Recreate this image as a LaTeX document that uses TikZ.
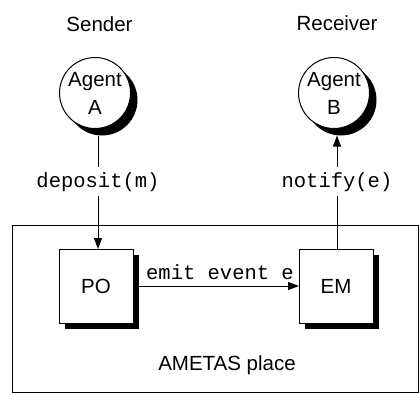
\documentclass[tikz,border=0pt]{standalone}
\usepackage{fontspec}
\setmainfont{Liberation Sans}
\setmonofont{Liberation Mono}
\usetikzlibrary{arrows.meta}
\begin{document}
\begin{tikzpicture}[x=1pt,y=-1pt,
  every node/.style={inner sep=0pt, outer sep=0pt},
  sans/.style={font=\fontsize{20.5}{28}\selectfont},
  mono/.style={font=\ttfamily\fontsize{20.5}{24}\selectfont},
  agent/.style={circle, draw, line width=1pt, fill=white, minimum size=71pt, align=center, sans},
  agentshadow/.style={circle, fill=black, minimum size=71pt},
  box/.style={rectangle, draw, line width=1pt, fill=white, minimum size=74pt, sans},
  boxshadow/.style={rectangle, fill=black, minimum size=74pt},
  msg/.style={mono, anchor=base, inner ysep=5pt},
  link/.style={line width=1pt},
  arr/.style={link, -{Triangle[length=11pt,width=8pt]}}
]
\useasboundingbox (0,0) rectangle (419,394);

% the place holding both service objects
\node[draw, line width=1pt, minimum width=406.5pt, minimum height=167.5pt, anchor=north west] (place) at (12,225) {};
\node[sans, anchor=base] (placelabel) at (227,370) {AMETAS place};

% roles
\node[sans, anchor=base] (sender) at (99.5,31) {Sender};
\node[sans, anchor=base] (receiver) at (337,30) {Receiver};

% agents with drop shadows
\node[agentshadow] (As) at (102,100) {};
\node[agent] (A) at (95,93) {Agent\\A};
\node[agentshadow] (Bs) at (341,100) {};
\node[agent] (B) at (334,93) {Agent\\B};

% post office and event manager
\node[boxshadow] (POs) at (102,292) {};
\node[box] (PO) at (96,286) {PO};
\node[boxshadow] (EMs) at (342,292) {};
\node[box] (EM) at (336,286) {EM};

% messages
\node[msg] (dep) at (98,187) {deposit(m)};
\node[msg] (ntf) at (337,187) {notify(e)};
\node[mono, anchor=base] (emit) at (220,279) {emit event e};

\draw[link] (dep.north |- As.south) -- (dep.north);
\draw[arr] (dep.south) -- (dep.south |- PO.north);

\draw[link] (ntf.south |- EM.north) -- (ntf.south);
\draw[arr] (ntf.north) -- (ntf.north |- Bs.south);

\draw[arr] (PO.east) -- (EM.west);
\end{tikzpicture}
\end{document}
